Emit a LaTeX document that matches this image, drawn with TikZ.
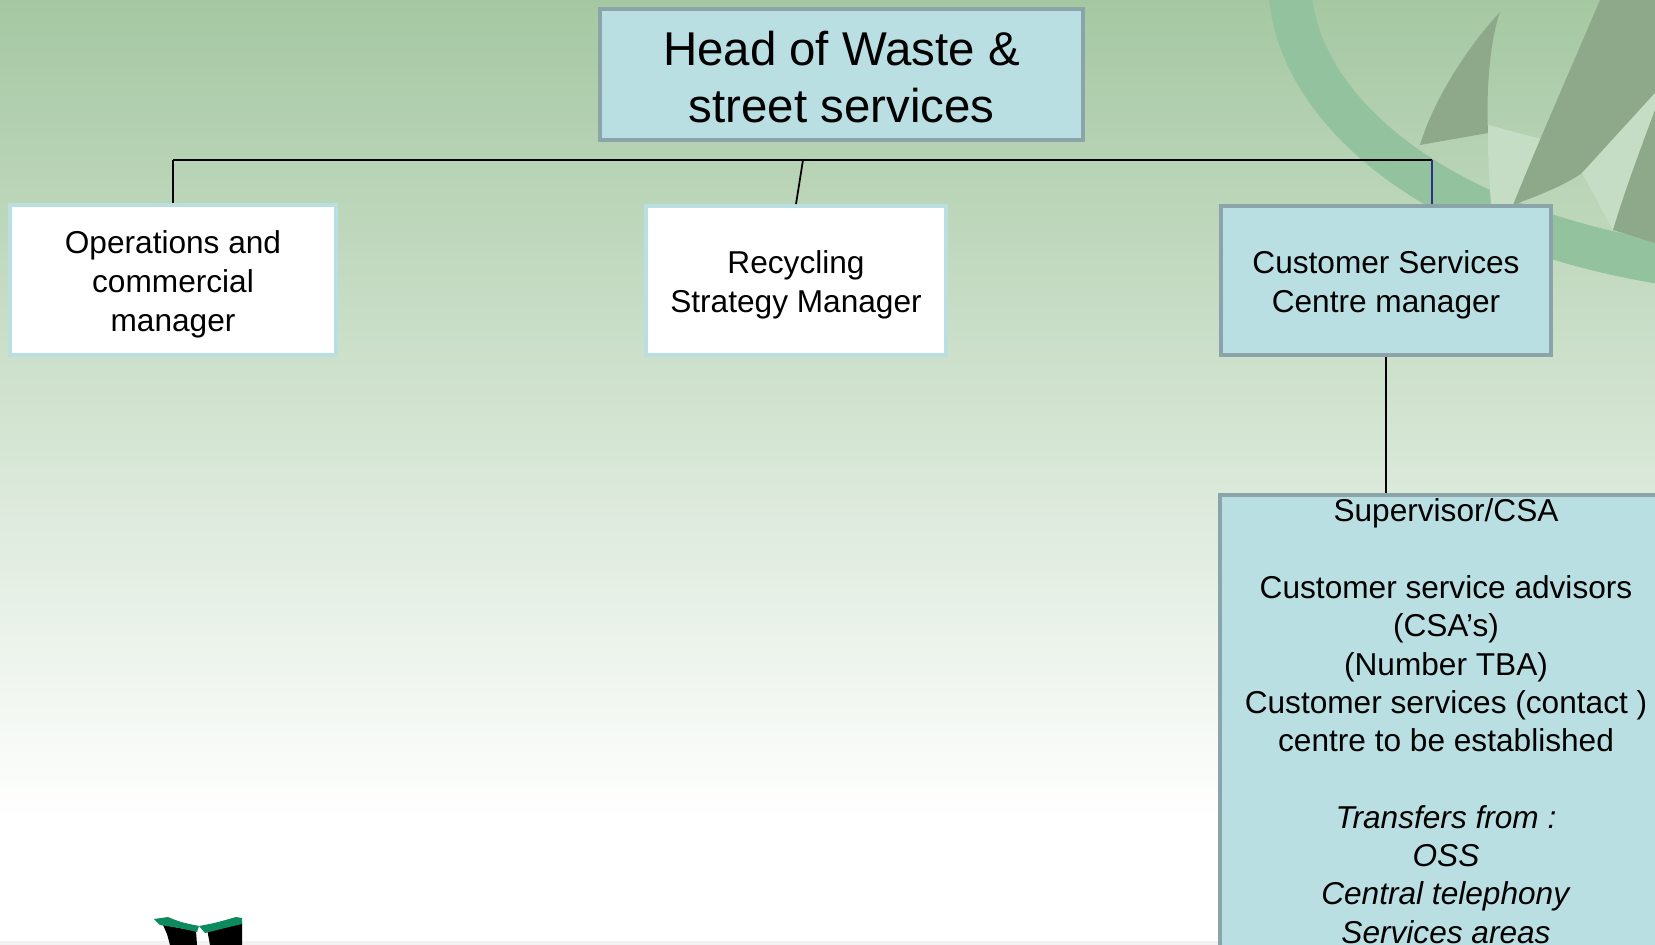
\documentclass[tikz,border=0pt]{standalone}
\usepackage{fontspec}
\setmainfont{Liberation Sans}
\definecolor{bgtop}{HTML}{A5C8A2}
\definecolor{boxfill}{HTML}{B9DFE3}
\definecolor{boxline}{HTML}{8BA4A9}
\definecolor{ringgreen}{HTML}{93C29F}
\definecolor{leafgrey}{HTML}{8EA98A}
\definecolor{leaflight}{HTML}{C4DDC4}
\definecolor{logogreen}{HTML}{0E8A5F}
\definecolor{linkblue}{HTML}{2E2E8C}
\newcommand{\tstrut}[1]{\rule{0pt}{#1}}

\begin{document}
\begin{tikzpicture}[x=0.02cm,y=-0.02cm]
\tikzset{headbox/.style = {draw=boxline, fill=boxfill, line width=0.08cm, inner sep=0pt, minimum width=9.66cm, minimum height=2.62cm, align=center, font=\fontsize{27pt}{32.4pt}\selectfont}}
\tikzset{wbox/.style = {draw=boxfill, fill=white, line width=0.08cm, inner sep=0pt, minimum height=2.98cm, align=center, font=\fontsize{18pt}{22pt}\selectfont}}
\tikzset{blbox/.style = {draw=boxline, fill=boxfill, line width=0.08cm, inner sep=0pt, align=center, font=\fontsize{18pt}{22pt}\selectfont}}
\tikzset{link/.style = {line width=1pt}}

\useasboundingbox (0,0) rectangle (1655,945);
\clip (0,0) rectangle (1655,945);
\shade[top color=bgtop, bottom color=white] (0,0) rectangle (1655,820);
\fill[white] (0,820) rectangle (1655,945);
\fill[black!5] (0,941) rectangle (1655,945);

\draw[ringgreen, line width=0.86cm] (1290,-10) .. controls (1295,100) and (1420,225) .. (1670,264);
\fill[leafgrey] (1500,12) .. controls (1460,55) and (1430,110) .. (1420,145) -- (1488,133) .. controls (1486,90) and (1490,40) .. (1500,12) -- cycle;
\fill[leaflight] (1488,125) .. controls (1488,160) .. (1491,205) -- (1515,205) -- (1545,140) -- cycle;
\fill[leafgrey] (1600,0) .. controls (1570,70) and (1535,150) .. (1513,205) .. controls (1540,195) and (1565,185) .. (1582,173) .. controls (1610,150) and (1635,120) .. (1655,93) -- (1655,0) -- cycle;
\fill[leaflight] (1582,173) -- (1655,93) -- (1655,110) .. controls (1640,150) and (1625,200) .. (1613,230) -- cycle;
\fill[leafgrey] (1613,230) .. controls (1625,190) and (1640,150) .. (1655,110) -- (1655,243) -- cycle;

\fill[black] (163,925) -- (196,931) -- (197,945) -- (170,945) -- (167,934) -- cycle;
\fill[black] (207,929) -- (242,923) -- (242,945) -- (210,945) -- cycle;
\fill[logogreen] (154,919) -- (168,917) .. controls (180,922) .. (199,926) -- (197,932) .. controls (180,928) .. (160,925) -- cycle;
\fill[logogreen] (199,926) .. controls (215,923) .. (236,917) -- (242,918) -- (242,924) .. controls (225,928) .. (205,933) -- cycle;

\node[headbox] (head) at (841.5,74.5) {\tstrut{22pt}Head of Waste \&\\street services};
\node[wbox, minimum width=6.52cm, minimum height=3cm] (ops) at (173,280) {\tstrut{18pt}Operations and\\commercial\\manager};
\node[wbox, minimum width=6cm] (rsm) at (796,280.5) {\tstrut{18pt}Recycling\\Strategy Manager};
\node[blbox, minimum width=6.6cm, minimum height=2.98cm] (csm) at (1386,280.5) {\tstrut{18pt}Customer Services\\Centre manager};
\node[blbox, anchor=north, minimum width=9.04cm, inner ysep=0.08cm, font=\fontsize{18pt}{21.8pt}\selectfont] (sup) at (1446,493)
  {Supervisor/CSA\\[21.8pt]
   Customer service advisors\\(CSA’s)\\(Number TBA)\\Customer services (contact )\\centre to be established\\[21.8pt]
   \textit{Transfers from :}\\\textit{OSS}\\\textit{Central telephony}\\\textit{Services areas}};

\coordinate (barL) at (173,160);
\coordinate (barM) at (803,160);
\coordinate (barR) at (1432,160);
\draw[link] (barL) -- (barR);
\draw[line width=1.5pt] (ops.north) -- (barL);
\draw[link] (barM) -- (rsm.north);
\draw[link, linkblue] (barR) -- (barR |- csm.north);
\draw[line width=1.5pt] (csm.south) -- (csm.south |- sup.north);
\end{tikzpicture}
\end{document}
